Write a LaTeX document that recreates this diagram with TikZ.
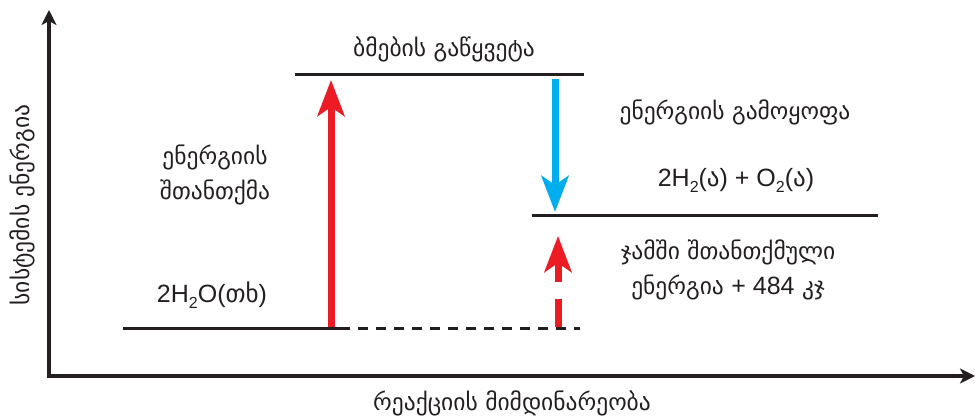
\documentclass[tikz,border=0pt]{standalone}
\usepackage{fontspec}
\setmainfont{Liberation Sans}
\newfontfamily\geofont{DejaVu Sans}
\usetikzlibrary{arrows.meta}
\pgfdeclarelayer{bg}
\pgfsetlayers{bg,main}
\definecolor{inkgray}{RGB}{35,31,32}
\definecolor{absred}{RGB}{237,28,36}
\definecolor{relblue}{RGB}{0,174,239}
\newcommand\lowsub[1]{\raisebox{-0.45ex}{\fontsize{16}{16}\selectfont#1}}

\begin{document}
\begin{tikzpicture}[x=1pt,y=-1pt,
        level/.style={line width=3pt, inkgray},
        axis/.style={line width=3.5pt, inkgray, {Stealth[length=15pt,width=15pt,inset=4pt]}-{Stealth[length=15pt,width=15pt,inset=4pt]}},
        bigarrow/.style={line width=7pt, -{Stealth[length=36pt,width=27pt,inset=9pt]}},
        geotext/.style={font=\geofont\fontsize{23.5}{35}\selectfont, text=inkgray, align=center, inner sep=0pt},
        chemtext/.style={font=\fontsize{25}{35}\selectfont, text=inkgray, inner sep=0pt}]
        \useasboundingbox (0,0) rectangle (975,417);
        \coordinate (ytip) at (49,10);
        \coordinate (origin) at (49,376);
        \coordinate (xtip) at (975,376);
        \coordinate (low-w) at (123,328);
        \coordinate (low-e) at (350,328);
        \coordinate (dash-w) at (358,328);
        \coordinate (dash-e) at (580,328);
        \coordinate (top-w) at (295,75);
        \coordinate (top-e) at (584,75);
        \coordinate (mid-w) at (532,215);
        \coordinate (mid-e) at (878,215);
        \coordinate (up-foot) at (331,327);
        \coordinate (up-tip) at (331,80);
        \coordinate (down-top) at (555,79);
        \coordinate (down-tip) at (555,212);
        \coordinate (net-foot) at (558,327);
        \coordinate (net-tip) at (558,236);
        \node (yname) [geotext, rotate=90] at (22,205) {სისტემის ენერგია};
        \node (xname) [geotext] at (512,403) {რეაქციის მიმდინარეობა};
        \node (break) [geotext] at (444,49) {ბმების გაწყვეტა};
        \node (absorb) [geotext] at (215,175) {ენერგიის\\შთანთქმა};
        \node (water) [chemtext] at (212,295) {2H\lowsub{2}O({\geofont თხ})};
        \node (release) [geotext] at (735,112) {ენერგიის გამოყოფა};
        \node (gases) [chemtext] at (736,180) {2H\lowsub{2}({\geofont ა}) + O\lowsub{2}({\geofont ა})};
        \node (total) [geotext] at (728,270) {ჯამში შთანთქმული\\ენერგია {\rmfamily\fontsize{25}{35}\selectfont + 484} კჯ};
        \begin{pgfonlayer}{bg}
                \draw[axis] (ytip) -- (origin) -- (xtip);
                \draw (low-w) edge [level] (low-e);
                \draw (dash-w) edge [level, dash pattern=on 10pt off 8pt] (dash-e);
                \draw (top-w) edge [level] (top-e);
                \draw (mid-w) edge [level] (mid-e);
        \end{pgfonlayer}
        \draw (up-foot) edge [bigarrow, absred] (up-tip);
        \draw (down-top) edge [bigarrow, relblue] (down-tip);
        \draw (net-foot) edge [bigarrow, absred, dash pattern=on 28pt off 17pt] (net-tip);
\end{tikzpicture}
\end{document}
